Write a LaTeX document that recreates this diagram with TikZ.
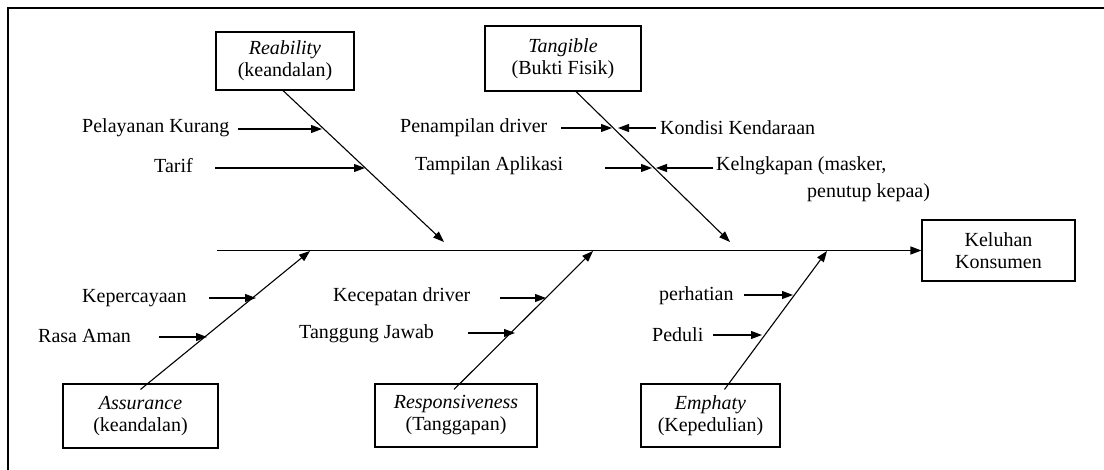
\documentclass[tikz,border=0pt]{standalone}
\usepackage{fontspec}
\setmainfont{Liberation Serif}
\usetikzlibrary{arrows.meta,calc}
\begin{document}
\begin{tikzpicture}[x=1pt,y=-1pt,
  every node/.style={font=\fontsize{20}{22}\selectfont, inner sep=0pt},
  cat/.style={draw, line width=1.1pt, align=center, inner sep=0pt},
  lbl/.style={anchor=west},
  bone/.style={line width=1.1pt, -{Triangle[length=11pt,width=8pt]}},
  frame/.style={line width=2.5pt}]
\useasboundingbox (0,0) rectangle (1104,470);
\draw[frame] (8,470) -- (8,8) -- (1104,8);

% category boxes
\node[cat, minimum width=138pt, minimum height=58pt] (reab) at (285,61) {\textit{Reability}\\(keandalan)};
\node[cat, minimum width=156pt, minimum height=65pt] (tang) at (563,58.5) {\textit{Tangible}\\(Bukti Fisik)};
\node[cat, minimum width=153pt, minimum height=61pt] (kel) at (998.5,250.5) {Keluhan\\Konsumen};
\node[cat, minimum width=155pt, minimum height=64pt] (assur) at (140.5,416) {\textit{Assurance}\\(keandalan)};
\node[cat, minimum width=162pt, minimum height=63pt] (resp) at (456,415.5) {\textit{Responsiveness}\\(Tanggapan)};
\node[cat, minimum width=139pt, minimum height=63pt] (emph) at (710.5,415.5) {\textit{Emphaty}\\(Kepedulian)};

% spine
\coordinate (s0) at (217,250.5);
\draw[bone] (s0) -- (kel.west);

% main bones
\coordinate (rt) at (444,242);
\coordinate (tt) at (730,242);
\coordinate (at) at (310,251);
\coordinate (pt) at (593,251);
\coordinate (et) at (827,251);
\draw[bone] ($(reab.south)+(-2,0)$) -- (rt);
\draw[bone] ($(tang.south)+(13,0)$) -- (tt);
\draw[bone] ($(assur.north)+(0,6)$) -- (at);
\draw[bone] ($(resp.north)+(-2,6)$) -- (pt);
\draw[bone] ($(emph.north)+(14,6)$) -- (et);

% cause labels
\node[lbl] (l1) at (82,128) {Pelayanan Kurang};
\node[lbl] (l2) at (154,166) {Tarif};
\node[lbl] (l3) at (400,128) {Penampilan driver};
\node[lbl] (l4) at (660,128) {Kondisi Kendaraan};
\node[lbl] (l5) at (415,166) {Tampilan Aplikasi};
\node[lbl] (l6) at (716,166) {Kelngkapan (masker,};
\node[lbl] (l6b) at (807,193) {penutup kepaa)};
\node[lbl] (l7) at (82,298) {Kepercayaan};
\node[lbl] (l8) at (38,336) {Rasa Aman};
\node[lbl] (l9) at (333,297) {Kecepatan driver};
\node[lbl] (l10) at (299,334) {Tanggung Jawab};
\node[lbl] (l11) at (659,296) {perhatian};
\node[lbl] (l12) at (652,335) {Peduli};

% cause arrows
\coordinate (a1s) at (238,129); \coordinate (a1e) at (322,129);
\coordinate (a2s) at (215,168); \coordinate (a2e) at (365,168);
\coordinate (a3s) at (561,128); \coordinate (a3e) at (612,128);
\coordinate (a4s) at (656,128); \coordinate (a4e) at (618,128);
\coordinate (a5s) at (605,168); \coordinate (a5e) at (652,168);
\coordinate (a6s) at (713,168); \coordinate (a6e) at (656,168);
\coordinate (a7s) at (209,298); \coordinate (a7e) at (256,298);
\coordinate (a8s) at (159,337); \coordinate (a8e) at (207,337);
\coordinate (a9s) at (500,298); \coordinate (a9e) at (546,298);
\coordinate (a10s) at (468,333); \coordinate (a10e) at (515,333);
\coordinate (a11s) at (744,295); \coordinate (a11e) at (793,295);
\coordinate (a12s) at (713,335); \coordinate (a12e) at (762,335);
\foreach \i in {1,...,12} {\draw[bone] (a\i s) -- (a\i e);}
\end{tikzpicture}
\end{document}
